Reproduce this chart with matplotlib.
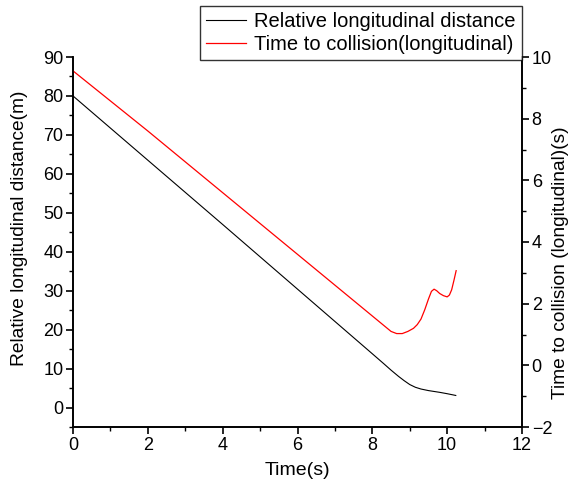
import matplotlib

matplotlib.use("Agg")
import matplotlib.pyplot as plt
from matplotlib.ticker import MultipleLocator

plt.rcParams["font.family"] = ["Liberation Sans", "DejaVu Sans"]

# relative longitudinal distance (left axis, m)
dist_t = [0, 2, 4, 6, 8, 8.3, 8.5, 8.7, 8.85, 9.0, 9.15, 9.3, 9.5, 9.8, 10.0, 10.23]
dist_m = [80, 63.5, 47.0, 30.4, 13.8, 11.3, 9.6, 8.0, 6.9, 5.9, 5.2, 4.75, 4.35,
          3.9, 3.55, 3.1]

# time to collision (right axis, s)
ttc_t = [0, 2, 4, 6, 8, 8.3, 8.5, 8.65, 8.8, 8.95, 9.1, 9.2, 9.3, 9.4, 9.5,
         9.58, 9.65, 9.72, 9.8, 9.9, 10.0, 10.06, 10.12, 10.18, 10.24]
ttc_s = [9.55, 7.6, 5.6, 3.6, 1.6, 1.3, 1.1, 1.03, 1.03, 1.1, 1.2, 1.32, 1.5,
         1.8, 2.15, 2.4, 2.47, 2.42, 2.33, 2.26, 2.22, 2.28, 2.45, 2.75, 3.07]

fig = plt.figure(figsize=(5.7, 4.88), dpi=100)
ax = fig.add_axes([73 / 570, 1 - 427 / 488, 449 / 570, 370 / 488])
ax2 = ax.twinx()

l1, = ax.plot(dist_t, dist_m, color="black", lw=0.8, label="Relative longitudinal distance")
l2, = ax2.plot(ttc_t, ttc_s, color="red", lw=0.9, label="Time to collision(longitudinal)")

ax.set_xlim(0, 12)
ax.set_ylim(-5, 90)
ax2.set_ylim(-2, 10)
ax.xaxis.set_major_locator(MultipleLocator(2))
ax.xaxis.set_minor_locator(MultipleLocator(1))
ax.yaxis.set_major_locator(MultipleLocator(10))
ax.yaxis.set_minor_locator(MultipleLocator(5))
ax2.yaxis.set_major_locator(MultipleLocator(2))
ax2.yaxis.set_minor_locator(MultipleLocator(1))

for a in (ax, ax2):
    a.spines["top"].set_visible(False)
    for s in a.spines.values():
        s.set_linewidth(1.2)
    a.tick_params(which="major", direction="out", length=5, width=1.2,
                  labelsize=13, pad=2)
    a.tick_params(which="minor", direction="out", length=3, width=1.0)

ax.set_xlabel("Time(s)", fontsize=14, labelpad=6)
ax.set_ylabel("Relative longitudinal distance(m)", fontsize=13.8)
ax2.set_ylabel("Time to collision (longitudinal)(s)", fontsize=13.8)
ax.yaxis.set_label_coords(-0.1, 0.538)
ax2.yaxis.set_label_coords(1.066, 0.443)

leg = fig.legend(handles=[l1, l2], loc="upper right",
                 bbox_to_anchor=(522 / 570, 1 - 6 / 488), fontsize=14.5,
                 frameon=True, fancybox=False, edgecolor="black",
                 handlelength=2.0, borderaxespad=0, labelspacing=0.2,
                 borderpad=0.3, handletextpad=0.4)
leg.get_frame().set_linewidth(1.0)

fig.savefig("out.png", dpi=100)
